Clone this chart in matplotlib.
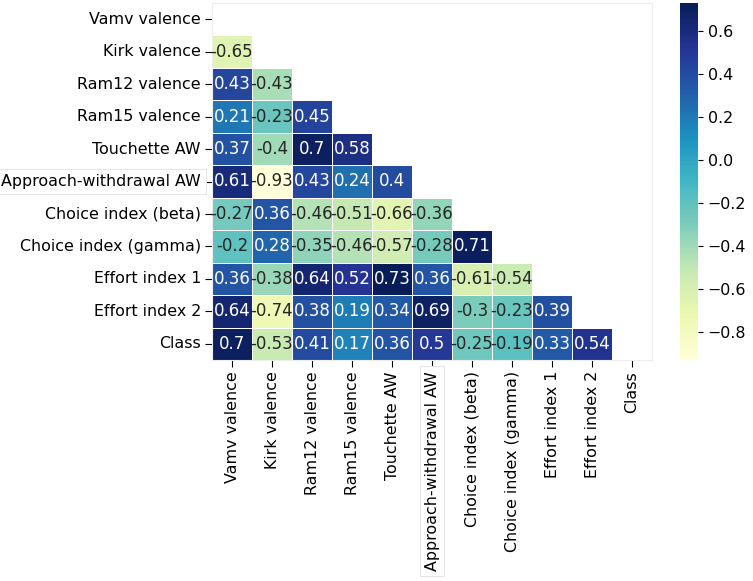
import numpy as np
import pandas as pd
import matplotlib
matplotlib.use('Agg')
import matplotlib.pyplot as plt
import seaborn as sns

labels = ['Vamv valence', 'Kirk valence', 'Ram12 valence', 'Ram15 valence',
          'Touchette AW', 'Approach-withdrawal AW', 'Choice index (beta)',
          'Choice index (gamma)', 'Effort index 1', 'Effort index 2', 'Class']

# lower triangle, row by row (below the diagonal)
row_kirk = [-0.65]
row_ram12 = [0.43, -0.43]
row_ram15 = [0.21, -0.23, 0.45]
row_touchette = [0.37, -0.4, 0.7, 0.58]
row_approach = [0.61, -0.93, 0.43, 0.24, 0.4]
row_beta = [-0.27, 0.36, -0.46, -0.51, -0.66, -0.36]
row_gamma = [-0.2, 0.28, -0.35, -0.46, -0.57, -0.28, 0.71]
row_effort1 = [0.36, -0.38, 0.64, 0.52, 0.73, 0.36, -0.61, -0.54]
row_effort2 = [0.64, -0.74, 0.38, 0.19, 0.34, 0.69, -0.3, -0.23, 0.39]
row_class = [0.7, -0.53, 0.41, 0.17, 0.36, 0.5, -0.25, -0.19, 0.33, 0.54]

rows = [row_kirk, row_ram12, row_ram15, row_touchette, row_approach, row_beta,
        row_gamma, row_effort1, row_effort2, row_class]

n = len(labels)
corr = np.eye(n)
for i, r in enumerate(rows, start=1):
    for j, v in enumerate(r):
        corr[i, j] = v
        corr[j, i] = v
corr = pd.DataFrame(corr, index=labels, columns=labels)

mask = np.triu(np.ones_like(corr, dtype=bool))

fig = plt.figure(figsize=(7.53, 5.81), dpi=100)
W, H = 753, 581
ax = fig.add_axes([212 / W, 1 - 360 / H, 440 / W, 357 / H])
cax = fig.add_axes([680 / W, 1 - 360 / H, 18 / W, 357 / H])

fs = 11.4
sns.heatmap(corr, mask=mask, cmap='YlGnBu', annot=True, linewidths=0.5,
            ax=ax, cbar_ax=cax, annot_kws={'fontsize': 12})

ax.tick_params(labelsize=fs, length=5, pad=3)
cax.tick_params(labelsize=fs)

for spine in ax.spines.values():
    spine.set_visible(True)
    spine.set_color('#eeeeee')
    spine.set_linewidth(0.8)

box = dict(boxstyle='square,pad=0.3', facecolor='white', edgecolor='#e6e6e6', linewidth=0.8)
for t in ax.get_yticklabels() + ax.get_xticklabels():
    if t.get_text() == 'Approach-withdrawal AW':
        t.set_bbox(box)

fig.savefig('out.png', dpi=100)
